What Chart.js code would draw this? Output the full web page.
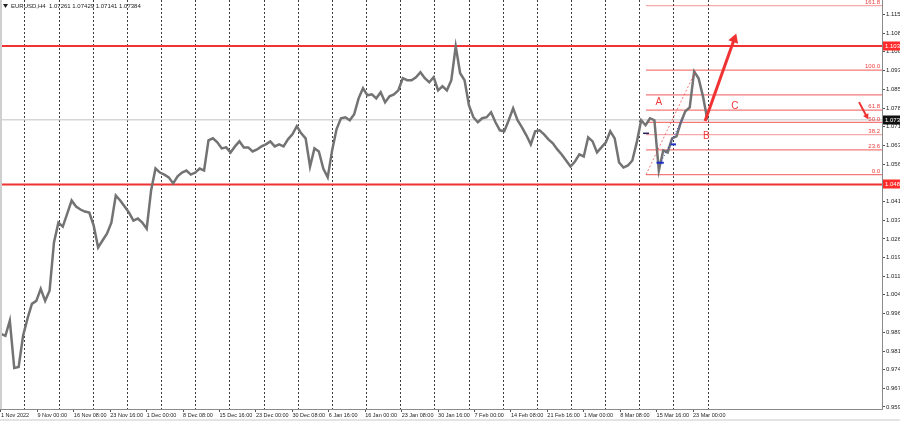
<!DOCTYPE html>
<html>
<head>
<meta charset="utf-8">
<title>EURUSD,H4</title>
<script src="https://cdn.jsdelivr.net/npm/chart.js@4.4.1/dist/chart.umd.min.js"></script>
<style>
  html, body { margin: 0; padding: 0; background: #fff; }
  #wrap { width: 900px; height: 421px; }
</style>
</head>
<body>
<div id="wrap"><canvas id="chart" width="900" height="421"></canvas></div>
<script>
var symbolTitle = 'EURUSD,H4';
var ohlcNow = ['1.07261', '1.07429', '1.07141', '1.07384'];

// H4 closes, one sample every SAMPLE_STEP bars (1 Nov 2022 .. 23 Mar 2023)
var SAMPLE_STEP = 4;
var closes = [
  0.9887, 0.9879, 0.9939, 0.9751, 0.9755, 0.9879, 0.9947, 1.0006, 1.0018, 1.0066,
  1.0018, 1.0058, 1.0250, 1.0329, 1.0313, 1.0365, 1.0417, 1.0393, 1.0381, 1.0373,
  1.0369, 1.0317, 1.0230, 1.0258, 1.0285, 1.0329, 1.0437, 1.0417, 1.0393, 1.0369,
  1.0337, 1.0345, 1.0329, 1.0305, 1.0457, 1.0544, 1.0528, 1.0520, 1.0509, 1.0485,
  1.0513, 1.0528, 1.0536, 1.0520, 1.0528, 1.0544, 1.0536, 1.0656, 1.0664, 1.0648,
  1.0624, 1.0628, 1.0608, 1.0632, 1.0652, 1.0628, 1.0628, 1.0612, 1.0620, 1.0632,
  1.0640, 1.0652, 1.0632, 1.0640, 1.0632, 1.0660, 1.0680, 1.0712, 1.0684, 1.0664,
  1.0552, 1.0624, 1.0612, 1.0544, 1.0509, 1.0616, 1.0700, 1.0744, 1.0748, 1.0736,
  1.0760, 1.0823, 1.0863, 1.0835, 1.0839, 1.0823, 1.0847, 1.0807, 1.0831, 1.0839,
  1.0855, 1.0903, 1.0895, 1.0895, 1.0907, 1.0927, 1.0903, 1.0887, 1.0907, 1.0855,
  1.0871, 1.0855, 1.0895, 1.1030, 1.0923, 1.0895, 1.0795, 1.0748, 1.0728, 1.0744,
  1.0748, 1.0768, 1.0728, 1.0696, 1.0692, 1.0736, 1.0783, 1.0736, 1.0708, 1.0676,
  1.0640, 1.0692, 1.0696, 1.0680, 1.0660, 1.0644, 1.0620, 1.0600, 1.0576, 1.0552,
  1.0572, 1.0600, 1.0592, 1.0668, 1.0652, 1.0608, 1.0628, 1.0648, 1.0692, 1.0664,
  1.0568, 1.0548, 1.0556, 1.0576, 1.0648, 1.0736, 1.0716, 1.0744, 1.0736, 1.0536,
  1.0616, 1.0608, 1.0664, 1.0672, 1.0728, 1.0772, 1.0787, 1.0930, 1.0903, 1.0831,
  1.0738
];

var BARS_PER_LABEL = 33;
var timeLabels = [
  '1 Nov 2022', '9 Nov 00:00', '16 Nov 08:00', '23 Nov 16:00', '1 Dec 00:00',
  '8 Dec 08:00', '15 Dec 16:00', '23 Dec 00:00', '30 Dec 08:00', '6 Jan 16:00',
  '16 Jan 00:00', '23 Jan 08:00', '30 Jan 16:00', '7 Feb 00:00', '14 Feb 08:00',
  '21 Feb 16:00', '1 Mar 00:00', '8 Mar 08:00', '15 Mar 16:00', '23 Mar 00:00'
];

// week separators (dotted grid)
var WEEK_FIRST_BAR = 21.7;
var WEEK_BARS = 30.95;
var WEEK_COUNT = 21;

var priceTicks = [
  1.1158, 1.1082, 1.1008, 1.0934, 1.0858, 1.0784, 1.0710, 1.0636, 1.0562, 1.0488,
  1.0414, 1.0338, 1.0264, 1.0190, 1.0116, 1.0042, 0.9968, 0.9892, 0.9818, 0.9744,
  0.9670, 0.9596
];

var resistance = 1.1031;
var support = 1.0481;
var bidPrice = 1.07384;

// fibonacci grid drawn on the last impulse
var fibLow = 1.0520;
var fibHigh = 1.0935;
var fibStartBar = 584.4;
var fibTopBar = 629.7;
var fibLevels = [0, 23.6, 38.2, 50, 61.8, 76.4, 100, 161.8];
var fibLabelled = [true, true, true, true, true, false, true, true];

var waveNames = ['A', 'B', 'C'];
var waveBars = [596, 639, 665];
var wavePrices = [1.0806, 1.0671, 1.0790];

var arrowBars = [637.9, 664.3];
var arrowPrices = [1.0733, 1.1058];
var smallArrowBars = [777.4, 784.2];
var smallArrowPrices = [1.0808, 1.0752];

var blueTrendBars = [597.1, 617.9];
var blueTrendPrices = [1.0562, 1.0745];
var blueMarkBars = [[593.9, 600.5], [606.8, 611.6]];
var blueMarkPrices = [1.0567, 1.0640];
var blackMarkBars = [581.7, 587.1];
var blackMarkPrice = 1.0684;

var X_MIN = -0.9;
var X_MAX = 798.2;
var Y_MIN = 0.9588;
var Y_MAX = 1.1214;

var FONT = "'Liberation Sans Narrow', 'Liberation Sans', Arial, sans-serif";
var RED = '#f03232';
var FIB_RED = 'rgba(238, 64, 64, 0.7)';

function seg(bars, prices) {
  return bars.map(function(b, i) { return { x: b, y: prices[i] }; });
}

function hLine(value, color, width, fromBar) {
  return {
    data: [{ x: fromBar === undefined ? X_MIN : fromBar, y: value }, { x: X_MAX, y: value }],
    borderColor: color,
    borderWidth: width,
    pointRadius: 0
  };
}

function arrowSet(bars, prices, width, head, rot) {
  return {
    data: seg(bars, prices),
    borderColor: RED,
    borderWidth: width,
    pointRadius: [0, head],
    pointStyle: 'triangle',
    pointRotation: rot,
    pointBackgroundColor: RED,
    pointBorderColor: RED,
    pointBorderWidth: 0
  };
}

var datasets = [];

// topmost first
datasets.push(arrowSet(arrowBars, arrowPrices, 3, 6, 20));
datasets.push(arrowSet(smallArrowBars, smallArrowPrices, 2, 3.5, 152));

datasets.push({
  data: seg(blueTrendBars, blueTrendPrices),
  borderColor: '#2a3fd0', borderWidth: 1, borderDash: [1, 2], pointRadius: 0
});
blueMarkBars.forEach(function(bars, i) {
  datasets.push({
    data: seg(bars, [blueMarkPrices[i], blueMarkPrices[i]]),
    borderColor: '#1b2fc8', borderWidth: 2, pointRadius: 0
  });
});
datasets.push({
  data: seg(blackMarkBars, [blackMarkPrice, blackMarkPrice]),
  borderColor: '#20205a', borderWidth: 1.5, pointRadius: 0
});

datasets.push({
  data: seg([fibStartBar, fibTopBar], [fibLow, fibHigh]),
  borderColor: FIB_RED, borderWidth: 1, borderDash: [2, 2], pointRadius: 0
});

datasets.push({
  data: closes.map(function(c, i) { return { x: i * SAMPLE_STEP, y: c }; }),
  borderColor: '#737373',
  borderWidth: 2.5,
  pointRadius: 0,
  tension: 0
});

fibLevels.forEach(function(lv) {
  var light = (lv === 38.2 || lv === 161.8);
  datasets.push(hLine(fibLow + (fibHigh - fibLow) * lv / 100,
    light ? 'rgba(238, 64, 64, 0.45)' : FIB_RED, 1.2, fibStartBar));
});

datasets.push(hLine(resistance, RED, 2));
datasets.push(hLine(support, RED, 2));
datasets.push(hLine(bidPrice, '#d6d6d6', 1.5));

var overlay = {
  id: 'overlay',
  beforeDraw: function(chart) {
    var ctx = chart.ctx;
    ctx.save();
    ctx.fillStyle = '#ffffff';
    ctx.fillRect(0, 0, chart.width, chart.height);
    ctx.restore();
  },
  afterDraw: function(chart) {
    var ctx = chart.ctx;
    var xs = chart.scales.x;
    var ys = chart.scales.y;
    var area = chart.chartArea;
    ctx.save();

    // window edges
    ctx.fillStyle = '#cfcfcf';
    ctx.fillRect(0, 0, 2, area.bottom);
    ctx.fillStyle = '#e4e4e4';
    ctx.fillRect(0, chart.height - 2, chart.width, 2);

    // title
    ctx.fillStyle = '#222';
    ctx.beginPath();
    ctx.moveTo(3, 4); ctx.lineTo(8, 4); ctx.lineTo(5.5, 8); ctx.closePath();
    ctx.fill();
    ctx.font = '6px ' + FONT;
    ctx.textBaseline = 'middle';
    ctx.textAlign = 'left';
    ctx.fillText(symbolTitle + '  ' + ohlcNow.join(' '), 11, 6.5);

    // fib level labels
    ctx.fillStyle = '#ee3c3c';
    ctx.textAlign = 'right';
    ctx.textBaseline = 'bottom';
    fibLevels.forEach(function(lv, i) {
      if (!fibLabelled[i]) return;
      var y = ys.getPixelForValue(fibLow + (fibHigh - fibLow) * lv / 100);
      ctx.fillText(lv.toFixed(1), area.right - 2, y - 0.5);
    });

    // wave labels
    ctx.font = '10px ' + FONT;
    ctx.textAlign = 'center';
    ctx.textBaseline = 'middle';
    ctx.fillStyle = '#f03a3a';
    waveNames.forEach(function(n, i) {
      ctx.fillText(n, xs.getPixelForValue(waveBars[i]), ys.getPixelForValue(wavePrices[i]));
    });

    // price boxes on the axis
    function box(value, bg) {
      var y = Math.round(ys.getPixelForValue(value));
      ctx.fillStyle = bg;
      ctx.fillRect(area.right + 1, y - 4.5, chart.width - area.right, 9);
      ctx.fillStyle = '#ffffff';
      ctx.font = '6px ' + FONT;
      ctx.textAlign = 'left';
      ctx.textBaseline = 'middle';
      ctx.fillText(value.toFixed(4), area.right + 3, y + 0.5);
    }
    box(resistance, '#ff2a2a');
    box(support, '#ff2a2a');
    box(bidPrice, '#111111');

    ctx.restore();
  }
};

new Chart(document.getElementById('chart').getContext('2d'), {
  type: 'line',
  data: { datasets: datasets },
  options: {
    responsive: false,
    animation: false,
    devicePixelRatio: 1,
    layout: { padding: 0, autoPadding: false },
    plugins: { legend: { display: false }, tooltip: { enabled: false } },
    elements: { line: { borderCapStyle: 'butt' } },
    scales: {
      x: {
        type: 'linear',
        position: 'bottom',
        min: X_MIN,
        max: X_MAX,
        afterBuildTicks: function(s) {
          s.ticks = timeLabels.map(function(_, i) { return { value: i * BARS_PER_LABEL }; });
        },
        afterFit: function(s) { s.height = 12; s.paddingLeft = 0; s.paddingRight = 0; },
        ticks: {
          autoSkip: false,
          maxRotation: 0,
          align: 'start',
          padding: 0,
          color: '#222',
          font: { family: FONT, size: 5.5 },
          callback: function(v, i) { return timeLabels[i]; }
        },
        grid: { drawOnChartArea: false, tickLength: 3, color: '#555' },
        border: { color: '#8a8a8a' }
      },
      weeks: {
        type: 'linear',
        position: 'top',
        min: X_MIN,
        max: X_MAX,
        afterBuildTicks: function(s) {
          var t = [];
          for (var i = 0; i < WEEK_COUNT; i++) t.push({ value: WEEK_FIRST_BAR + i * WEEK_BARS });
          s.ticks = t;
        },
        afterFit: function(s) { s.height = 0; s.paddingLeft = 0; s.paddingRight = 0; },
        ticks: { display: false },
        grid: { drawOnChartArea: true, drawTicks: false, color: '#3c3c3c', lineWidth: 1 },
        border: { display: false, dash: [2, 2] }
      },
      y: {
        type: 'linear',
        position: 'right',
        min: Y_MIN,
        max: Y_MAX,
        afterBuildTicks: function(s) {
          s.ticks = priceTicks.map(function(v) { return { value: v }; });
        },
        afterFit: function(s) { s.width = 18; s.paddingTop = 0; s.paddingBottom = 0; },
        ticks: {
          padding: 1,
          color: '#222',
          font: { family: FONT, size: 6 },
          callback: function(v) { return v.toFixed(4); }
        },
        grid: { drawOnChartArea: false, tickLength: 3, color: '#555' },
        border: { color: '#8a8a8a' }
      }
    }
  },
  plugins: [overlay]
});
</script>
</body>
</html>
